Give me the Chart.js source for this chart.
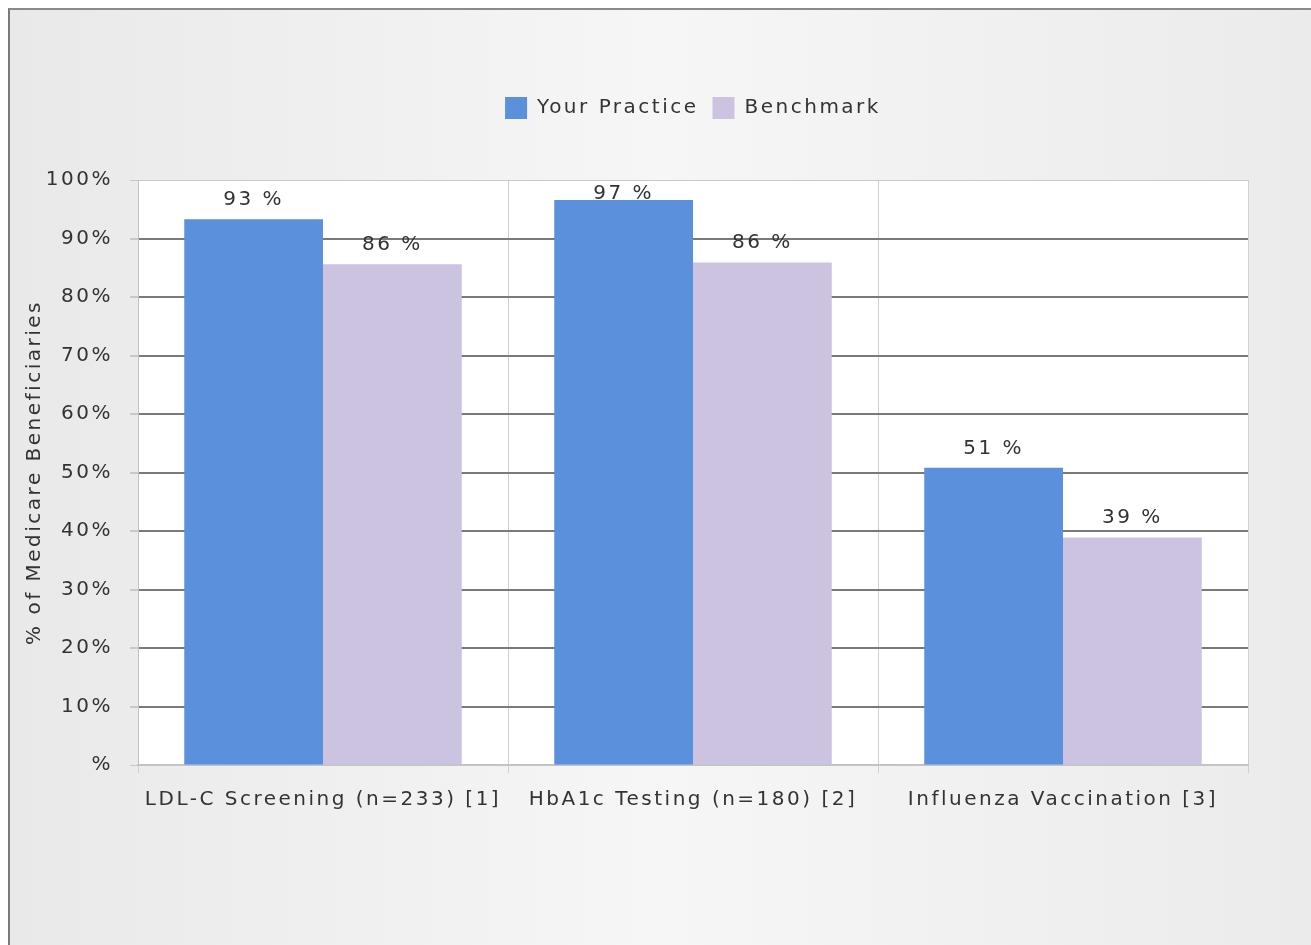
<!DOCTYPE html>
<html>
<head>
<meta charset="utf-8">
<title>Medicare Beneficiaries</title>
<script src="https://cdn.jsdelivr.net/npm/chart.js"></script>
<style>
  html, body { margin: 0; padding: 0; width: 1311px; height: 945px; overflow: hidden; background: #fff; }
  #frame {
    position: absolute; left: 8px; top: 8px; width: 1301px; height: 935px;
    border-top: 2px solid #8a8a8a; border-left: 2px solid #7a7a7a;
    background: linear-gradient(to right, #e9e9e9, #f6f6f6 50%, #ebebeb);
  }
  #wrap { position: absolute; left: 0; top: 0; width: 1311px; height: 945px; }
</style>
</head>
<body>
<div id="frame"></div>
<div id="wrap"><canvas id="chart" width="1311" height="945"></canvas></div>
<script>
// data
const categories = ['LDL-C Screening (n=233) [1]', 'HbA1c Testing (n=180) [2]', 'Influenza Vaccination [3]'];
const seriesNames = ['Your Practice', 'Benchmark'];
const yourPractice = [93.3, 96.6, 50.8];
const benchmark = [85.6, 85.9, 38.9];
const yTickLabels = ['%', '10%', '20%', '30%', '40%', '50%', '60%', '70%', '80%', '90%', '100%'];

const FONT = 'DejaVu Sans';
const SIZE = 20;
const TEXT = '#333';
const SPACING = '2.5px';

// wide, spaced-out text like the original
const letterSpacing = {
  id: 'letterSpacing',
  beforeLayout(chart) { chart.ctx.letterSpacing = SPACING; },
  beforeDraw(chart) { chart.ctx.letterSpacing = SPACING; }
};

// white plot area
const plotBackground = {
  id: 'plotBackground',
  beforeDraw(chart) {
    const a = chart.chartArea;
    chart.ctx.save();
    chart.ctx.fillStyle = '#fff';
    chart.ctx.fillRect(a.left, a.top, a.right - a.left, a.bottom - a.top);
    chart.ctx.restore();
  }
};

// extra room between legend and plot
const legendGap = {
  id: 'legendGap',
  afterInit(chart) {
    const legend = chart.legend;
    const fit = legend.fit;
    legend.fit = function () { fit.call(this); this.height += 51; };
  }
};

// "93 %" labels above bars, kept inside the plot
const barValueLabels = {
  id: 'barValueLabels',
  afterDatasetsDraw(chart) {
    const ctx = chart.ctx;
    const top = chart.chartArea.top;
    ctx.save();
    ctx.font = SIZE + 'px "' + FONT + '"';
    ctx.fillStyle = TEXT;
    ctx.textAlign = 'center';
    ctx.textBaseline = 'alphabetic';
    chart.data.datasets.forEach((ds, i) => {
      chart.getDatasetMeta(i).data.forEach((bar, j) => {
        const y = Math.max(bar.y - 14, top + 19);
        ctx.fillText(Math.round(ds.data[j]) + ' %', bar.x, y);
      });
    });
    ctx.restore();
  }
};

const ctx = document.getElementById('chart').getContext('2d');
new Chart(ctx, {
  type: 'bar',
  data: {
    labels: categories,
    datasets: [{
      label: seriesNames[0],
      data: yourPractice,
      backgroundColor: '#5a90dc',
      categoryPercentage: 0.75,
      barPercentage: 1.0
    }, {
      label: seriesNames[1],
      data: benchmark,
      backgroundColor: '#cbc3df',
      categoryPercentage: 0.75,
      barPercentage: 1.0
    }]
  },
  options: {
    responsive: false,
    devicePixelRatio: 1,
    animation: false,
    layout: { padding: { top: 83, left: 10, right: 63, bottom: 10 } },
    plugins: {
      tooltip: { enabled: false },
      legend: {
        position: 'top',
        fullSize: false,
        labels: {
          color: TEXT,
          font: { family: FONT, size: SIZE },
          boxWidth: 22,
          boxHeight: 22,
          padding: 14
        }
      }
    },
    scales: {
      x: {
        grid: { color: '#d0d0d0', tickColor: '#d0d0d0', tickLength: 8 },
        border: { color: '#c4c4c4', width: 2 },
        ticks: { color: TEXT, font: { family: FONT, size: SIZE }, padding: 15, maxRotation: 0 },
        afterFit(scale) { scale.height = 170; }
      },
      y: {
        min: 0,
        max: 100,
        ticks: {
          stepSize: 10,
          color: TEXT,
          font: { family: FONT, size: SIZE },
          padding: 17,
          callback: (v, i) => yTickLabels[i]
        },
        grid: {
          color: c => (c.tick && (c.tick.value === 0 || c.tick.value === 100)) ? '#c8c8c8' : '#7a7a7a',
          lineWidth: c => (c.tick && (c.tick.value === 0 || c.tick.value === 100)) ? 1 : 2,
          tickColor: '#c8c8c8',
          tickLength: 8
        },
        border: { color: '#c0c0c0' },
        title: {
          display: true,
          text: '% of Medicare Beneficiaries',
          color: TEXT,
          font: { family: FONT, size: SIZE },
          padding: { top: 13, bottom: 0 }
        },
        afterFit(scale) { scale.width = 128; }
      }
    }
  },
  plugins: [letterSpacing, plotBackground, legendGap, barValueLabels]
});
</script>
</body>
</html>
